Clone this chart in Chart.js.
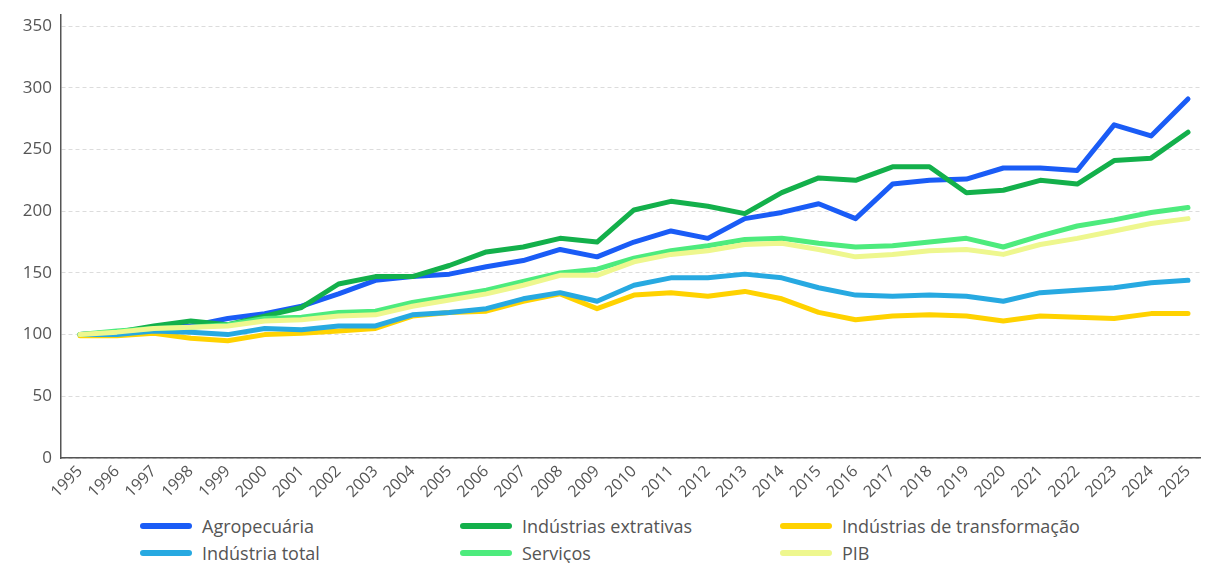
<!DOCTYPE html>
<html lang="pt-BR">
<head>
<meta charset="utf-8">
<title>Índices por setor</title>
<script src="https://cdn.jsdelivr.net/npm/chart.js@4"></script>
<style>
    body { margin: 0; background: #fff; font-family: "Open Sans", sans-serif; }
    #caixa { position: relative; width: 1209px; height: 563px; }
    #area { position: absolute; left: 0; top: 0; width: 1209px; height: 510px; }
    #legenda { position: absolute; left: 0; top: 514px; width: 1209px; }
    .item { position: absolute; display: flex; align-items: center; font-size: 18px; color: #555; white-space: nowrap; }
    .item span.traco { display: inline-block; width: 52px; height: 6px; border-radius: 3px; margin-right: 10px; }
</style>
</head>
<body>
<div id="caixa">
    <div id="area"><canvas id="chart"></canvas></div>
    <div id="legenda"></div>
</div>
<script>
let anos = [];
for (let a = 1995; a <= 2025; a++) anos.push(a);

let agropecuaria = [100, 102, 106, 107, 113, 117, 123, 133, 144, 147, 149, 155, 160, 169, 163, 175, 184, 178, 194, 199, 206, 194, 222, 225, 226, 235, 235, 233, 270, 261, 291];
let extrativas = [100, 102, 107, 111, 108, 115, 122, 141, 147, 147, 156, 167, 171, 178, 175, 201, 208, 204, 198, 215, 227, 225, 236, 236, 215, 217, 225, 222, 241, 243, 264];
let transformacao = [99, 99, 101, 97, 95, 100, 101, 103, 105, 115, 118, 119, 127, 133, 121, 132, 134, 131, 135, 129, 118, 112, 115, 116, 115, 111, 115, 114, 113, 117, 117];
let industriaTotal = [100, 100, 103, 102, 100, 105, 104, 107, 107, 116, 118, 121, 129, 134, 127, 140, 146, 146, 149, 146, 138, 132, 131, 132, 131, 127, 134, 136, 138, 142, 144];
let servicos = [100, 103, 105, 106, 108, 113, 114, 118, 119, 126, 131, 136, 143, 150, 153, 162, 168, 172, 177, 178, 174, 171, 172, 175, 178, 171, 180, 188, 193, 199, 203];
let pib = [100, 102, 105, 106, 107, 111, 112, 115, 116, 123, 128, 133, 140, 148, 148, 159, 165, 168, 173, 174, 169, 163, 165, 168, 169, 165, 173, 178, 184, 190, 194];

let nomes = ['Agropecuária', 'Indústrias extrativas', 'Indústrias de transformação', 'Indústria total', 'Serviços', 'PIB'];
let cores = ['#1a5cf6', '#13b04b', '#ffd200', '#27a9e1', '#4deb7d', '#eef78e'];
let series = [agropecuaria, extrativas, transformacao, industriaTotal, servicos, pib];
let ordem = [6, 5, 4, 3, 2, 1];

let datasets = series.map((valores, i) => ({
    label: nomes[i],
    data: valores.map((v, j) => ({ x: anos[j], y: v })),
    borderColor: cores[i],
    backgroundColor: cores[i],
    borderWidth: 5,
    borderCapStyle: 'round',
    borderJoinStyle: 'round',
    pointRadius: 0,
    tension: 0,
    order: ordem[i]
}));

let ctx = document.getElementById('chart').getContext('2d');
let chart = new Chart(ctx, {
    type: 'line',
    data: { datasets: datasets },
    options: {
        responsive: true,
        maintainAspectRatio: false,
        animation: false,
        layout: { padding: { top: 15, right: 9, left: 0, bottom: 0 } },
        plugins: { legend: { display: false }, tooltip: { enabled: false } },
        scales: {
            x: {
                type: 'linear',
                min: 1994.486,
                max: 2025.325,
                afterBuildTicks: (scale) => {
                    scale.ticks = anos.map(a => ({ value: a }));
                },
                afterFit: (scale) => {
                    scale.height = 52;
                    scale.paddingLeft = 0;
                    scale.paddingRight = 0;
                },
                grid: { display: false, drawTicks: false },
                border: { display: true, color: '#555', width: 1.5 },
                ticks: {
                    autoSkip: false,
                    minRotation: 45,
                    maxRotation: 45,
                    padding: 4,
                    color: '#555',
                    font: { family: 'Open Sans', size: 16 },
                    callback: (v) => String(v)
                }
            },
            y: {
                min: 0,
                max: 359,
                afterBuildTicks: (scale) => {
                    let t = [];
                    for (let v = 0; v <= 350; v += 50) t.push({ value: v });
                    scale.ticks = t;
                },
                afterFit: (scale) => {
                    scale.width = 61;
                    scale.paddingTop = 0;
                    scale.paddingBottom = 0;
                },
                grid: { color: '#dcdcdc', drawTicks: false },
                border: { display: true, color: '#555', width: 1.5, dash: [4, 3] },
                ticks: {
                    padding: 9,
                    color: '#555',
                    font: { family: 'Open Sans', size: 17 }
                }
            }
        }
    }
});

// legenda em 3 colunas
let legenda = document.getElementById('legenda');
let colunas = [140, 460, 780];
let linhas = [0, 27];
nomes.forEach((nome, i) => {
    let item = document.createElement('div');
    item.className = 'item';
    item.style.left = colunas[i % 3] + 'px';
    item.style.top = linhas[Math.floor(i / 3)] + 'px';
    item.innerHTML = '<span class="traco" style="background:' + cores[i] + '"></span>' + nome;
    legenda.appendChild(item);
});
</script>
</body>
</html>
